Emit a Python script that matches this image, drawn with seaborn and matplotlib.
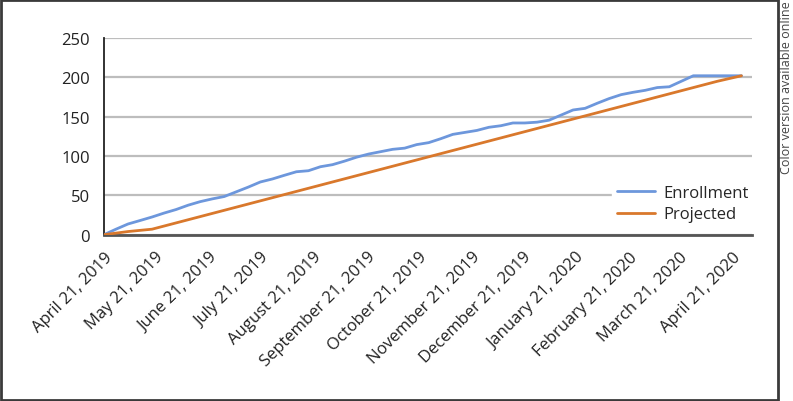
import pandas as pd
import matplotlib.pyplot as plt
from matplotlib.patches import Rectangle
import seaborn as sns

# weekly data points starting April 21, 2019
start_date = "2019-04-21"
n_weeks = 54

enrollment = [0, 7, 13.6, 18, 22.5, 27.5, 32, 37.5, 42, 45.5,
              48.5, 54.5, 60.5, 67, 70.8, 75.5, 80, 81.3, 86.4, 89,
              93.5, 98.5, 102.5, 105.5, 108.5, 110, 114.5, 117, 122, 127.5,
              130, 132.5, 136.5, 138.5, 142, 142, 143, 145.5, 152, 158.5,
              160.6, 167, 173, 178, 181, 183.5, 187, 188, 195, 202,
              202, 202, 202, 202]

projected = [0, 2, 4, 5.5, 7, 11, 15, 19, 23, 27,
             31, 35, 39, 43, 47, 51, 55, 59, 63, 67,
             71, 75, 79, 83, 87, 91, 95, 99, 103, 107,
             111, 115, 119, 123, 127, 131, 135, 139, 143, 147,
             151, 155, 159, 163, 167, 171, 175, 179, 183, 187,
             191, 195, 198.5, 202]

series_names = ["Enrollment", "Projected"]
tick_dates = pd.date_range("2019-04-01", "2020-04-01", freq="MS") + pd.Timedelta(days=20)
y_ticks = [0, 50, 100, 150, 200, 250]

sns.set_style("white")
plt.rcParams["font.family"] = ["Open Sans", "DejaVu Sans"]

dates = pd.date_range(start_date, periods=n_weeks, freq="7D")
df = pd.DataFrame({"date": list(dates) * 2,
                   "value": enrollment + projected,
                   "series": [series_names[0]] * n_weeks + [series_names[1]] * n_weeks})

fig = plt.figure(figsize=(7.93, 4.02), dpi=100)
ax = fig.add_axes([0.1311, 0.4137, 0.8169, 0.4893])

sns.lineplot(data=df, x="date", y="value", hue="series",
             palette=["#6d97dc", "#d9782c"], linewidth=2, ax=ax, zorder=3)

ax.set_ylim(0, 250)
ax.set_yticks(y_ticks)
ax.set_xlim(dates[0], dates[0] + pd.Timedelta(days=377))
ax.set_xticks(tick_dates)
ax.set_xticklabels([f"{d:%B} {d.day}, {d.year}" for d in tick_dates],
                   rotation=45, ha="right", rotation_mode="anchor")
ax.tick_params(axis="both", labelsize=12, colors="#222222")
ax.tick_params(axis="x", length=7, width=1.3, color="#333333", pad=3)
ax.tick_params(axis="y", length=5, width=1.3, color="#333333", pad=5)
ax.set_xlabel("")
ax.set_ylabel("")

ax.yaxis.grid(True, color="#bdbdbd", linewidth=1.6)
ax.set_axisbelow(True)
for s in ["top", "right"]:
    ax.spines[s].set_visible(False)
ax.spines["left"].set_color("#222222")
ax.spines["left"].set_linewidth(1.3)
ax.spines["bottom"].set_color("#555555")
ax.spines["bottom"].set_linewidth(2)

leg = ax.legend(loc="lower right", bbox_to_anchor=(1.016, -0.005), frameon=True,
                fontsize=12, handlelength=2.3, handletextpad=0.5,
                borderpad=0.3, labelspacing=0.35)
leg.get_frame().set_facecolor("white")
leg.get_frame().set_edgecolor("white")
leg.get_frame().set_alpha(1)
for line in leg.get_lines():
    line.set_linewidth(2)

fig.patches.append(Rectangle((0.0015, 0.003), 777 / 793, 0.994,
                             transform=fig.transFigure, fill=False,
                             edgecolor="#3a3a3a", linewidth=2))
fig.text(0.992, 0.998, "Color version available online", rotation=90,
         ha="center", va="top", fontsize=9, color="#444444")

fig.savefig("out.png", dpi=100)
